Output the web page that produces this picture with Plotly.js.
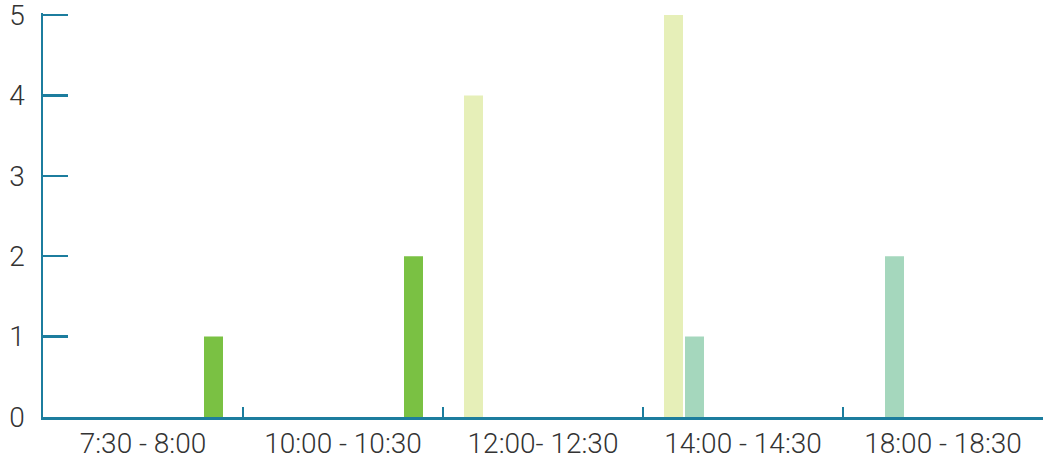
<!DOCTYPE html>
<html>
<head>
<meta charset="utf-8">
<script src="https://cdn.plot.ly/plotly-3.0.1.min.js"></script>
<style>html,body{margin:0;padding:0;background:#fff;}#chart{width:1046px;height:462px;}</style>
</head>
<body>
<div id="chart"></div>
<script>
const categories = ["7:30 - 8:00", "10:00 - 10:30", "12:00- 12:30", "14:00 - 14:30", "18:00 - 18:30"];
const seriesGreen = [1, 2, 0, 0, 0];
const seriesYellow = [0, 0, 4, 5, 0];
const seriesMint = [0, 0, 0, 1, 2];
const yTicks = [0, 1, 2, 3, 4, 5];

const axisColor = "#1c7d9e";
const traces = [
  {type: "bar", x: categories, y: seriesYellow, width: 0.095, offset: -0.395, marker: {color: "#e6efb8"}, hoverinfo: "x+y"},
  {type: "bar", x: categories, y: seriesMint, width: 0.095, offset: -0.29, marker: {color: "#a5d7bd"}, hoverinfo: "x+y"},
  {type: "bar", x: categories, y: seriesGreen, width: 0.095, offset: 0.305, marker: {color: "#7ac143"}, hoverinfo: "x+y"}
];
const layout = {
  width: 1046, height: 462,
  margin: {l: 43, r: 3, t: 13, b: 45, pad: 0},
  paper_bgcolor: "#fff", plot_bgcolor: "#fff",
  showlegend: false,
  barmode: "overlay",
  font: {family: "Roboto, sans-serif", color: "#333"},
  xaxis: {
    type: "category", range: [-0.5, 4.5],
    showline: true, linecolor: axisColor, linewidth: 2.5,
    showgrid: false, zeroline: false,
    ticks: "inside", tickson: "boundaries", ticklen: 10, tickwidth: 2.5, tickcolor: axisColor,
    tickfont: {family: "Roboto", size: 28, color: "#333", weight: 300},
    ticklabelstandoff: 0
  },
  yaxis: {
    range: [0, 5.025], tickmode: "array", tickvals: yTicks, ticktext: yTicks.map(String),
    showline: true, linecolor: axisColor, linewidth: 2.5,
    showgrid: false, zeroline: false,
    ticks: "inside", ticklen: 25, tickwidth: 2.5, tickcolor: axisColor,
    tickfont: {family: "Roboto", size: 28, color: "#333", weight: 300},
    ticklabelstandoff: 10,
    ticklabeloverflow: "allow"
  }
};
Plotly.newPlot("chart", traces, layout, {staticPlot: true, displayModeBar: false});
</script>
</body>
</html>
